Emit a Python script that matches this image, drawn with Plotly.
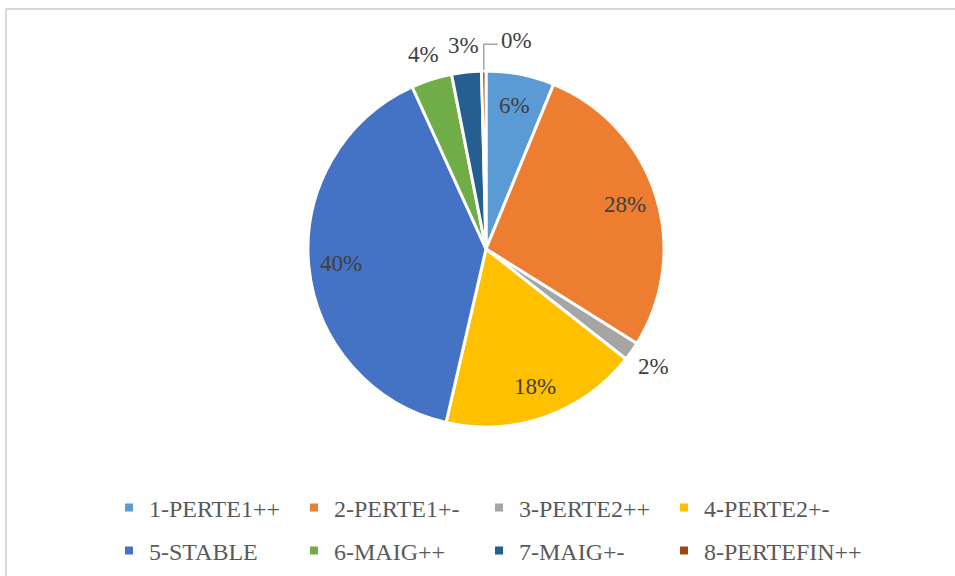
import math
import plotly.graph_objects as go

categories = ["1-PERTE1++", "2-PERTE1+-", "3-PERTE2++", "4-PERTE2+-",
              "5-STABLE", "6-MAIG++", "7-MAIG+-", "8-PERTEFIN++"]
values = [6.2, 27.7, 1.7, 18.0, 39.6, 3.7, 2.7, 0.4]
colors = ["#5B9BD5", "#ED7D31", "#A5A5A5", "#FFC000",
          "#4472C4", "#70AD47", "#255E91", "#9E480E"]
label_inside = [True, True, False, True, True, False, False, False]

W, H = 955, 576
CX, CY, R = 486.0, 249.0, 178.0
FONT = "Times New Roman, Liberation Serif, serif"
ENTRY_W = 140          # legend entry width (text part)
ENTRY_STEP = ENTRY_W + 45
LEG_X = 109

fig = go.Figure()
fig.add_trace(go.Pie(
    labels=categories, values=values, sort=False, direction="clockwise",
    rotation=0, textinfo="none", showlegend=False, hoverinfo="label+percent",
    marker=dict(colors=colors, line=dict(color="white", width=3)),
    domain=dict(x=[(CX - R) / W, (CX + R) / W], y=[1 - (CY + R) / H, 1 - (CY - R) / H]),
))

# legend via dummy traces: row 1 -> legend, row 2 -> legend2, last entry -> legend3 (auto width)
legend_of = ["legend"] * 4 + ["legend2"] * 3 + ["legend3"]
for i, (name, c) in enumerate(zip(categories, colors)):
    fig.add_trace(go.Scatter(
        x=[None], y=[None], mode="markers", name=name,
        marker=dict(symbol="square", size=8, color=c),
        legend=legend_of[i], showlegend=True,
    ))

total = sum(values)
annotations = []
shapes = []
cum = 0.0
for i, v in enumerate(values):
    mid = 2 * math.pi * (cum + v / 2) / total
    cum += v
    txt = f"{round(100 * v / total)}%"
    if i == len(values) - 1:
        # leader line label
        ex = CX + (R + 1) * math.sin(mid)
        ey = CY - (R + 1) * math.cos(mid)
        ky = CY - 1.15 * R
        hx = ex + 14
        shapes.append(dict(type="path", xref="paper", yref="paper",
                           path=f"M {ex/W},{1-ey/H} L {ex/W},{1-ky/H} L {hx/W},{1-ky/H}",
                           line=dict(color="#A6A6A6", width=1.5)))
        annotations.append(dict(x=(hx + 1) / W, y=1 - (ky - 4) / H, xref="paper", yref="paper",
                                text=txt, showarrow=False, xanchor="left", yanchor="middle",
                                font=dict(family=FONT, size=23, color="#404040")))
        continue
    rr = 0.82 * R if label_inside[i] else 1.15 * R
    px = CX + rr * math.sin(mid)
    py = CY - rr * math.cos(mid)
    annotations.append(dict(x=px / W, y=1 - py / H, xref="paper", yref="paper",
                            text=txt, showarrow=False, xanchor="center", yanchor="middle",
                            font=dict(family=FONT, size=23, color="#404040")))

shapes.append(dict(type="rect", xref="paper", yref="paper",
                   x0=6 / W, y0=1 - 9 / H, x1=1.02, y1=-0.02,
                   line=dict(color="#D9D9D9", width=2), fillcolor="rgba(0,0,0,0)"))

legend_common = dict(orientation="h", xanchor="left", yanchor="middle",
                     font=dict(family=FONT, size=24, color="#595959"),
                     itemwidth=30, bgcolor="rgba(0,0,0,0)", borderwidth=0)

fig.update_layout(
    width=W, height=H, margin=dict(l=0, r=0, t=0, b=0),
    paper_bgcolor="white", plot_bgcolor="white",
    xaxis=dict(visible=False), yaxis=dict(visible=False),
    annotations=annotations, shapes=shapes,
    legend=dict(x=LEG_X / W, y=1 - 508 / H, entrywidth=ENTRY_W, entrywidthmode="pixels",
                **legend_common),
    legend2=dict(x=LEG_X / W, y=1 - 551 / H, entrywidth=ENTRY_W, entrywidthmode="pixels",
                 **legend_common),
    legend3=dict(x=(LEG_X + 3 * ENTRY_STEP) / W, y=1 - 551 / H, **legend_common),
)

fig.write_html("out.html", config={"displayModeBar": False},
               post_script="document.body.style.margin='0';document.body.style.overflow='hidden';")
